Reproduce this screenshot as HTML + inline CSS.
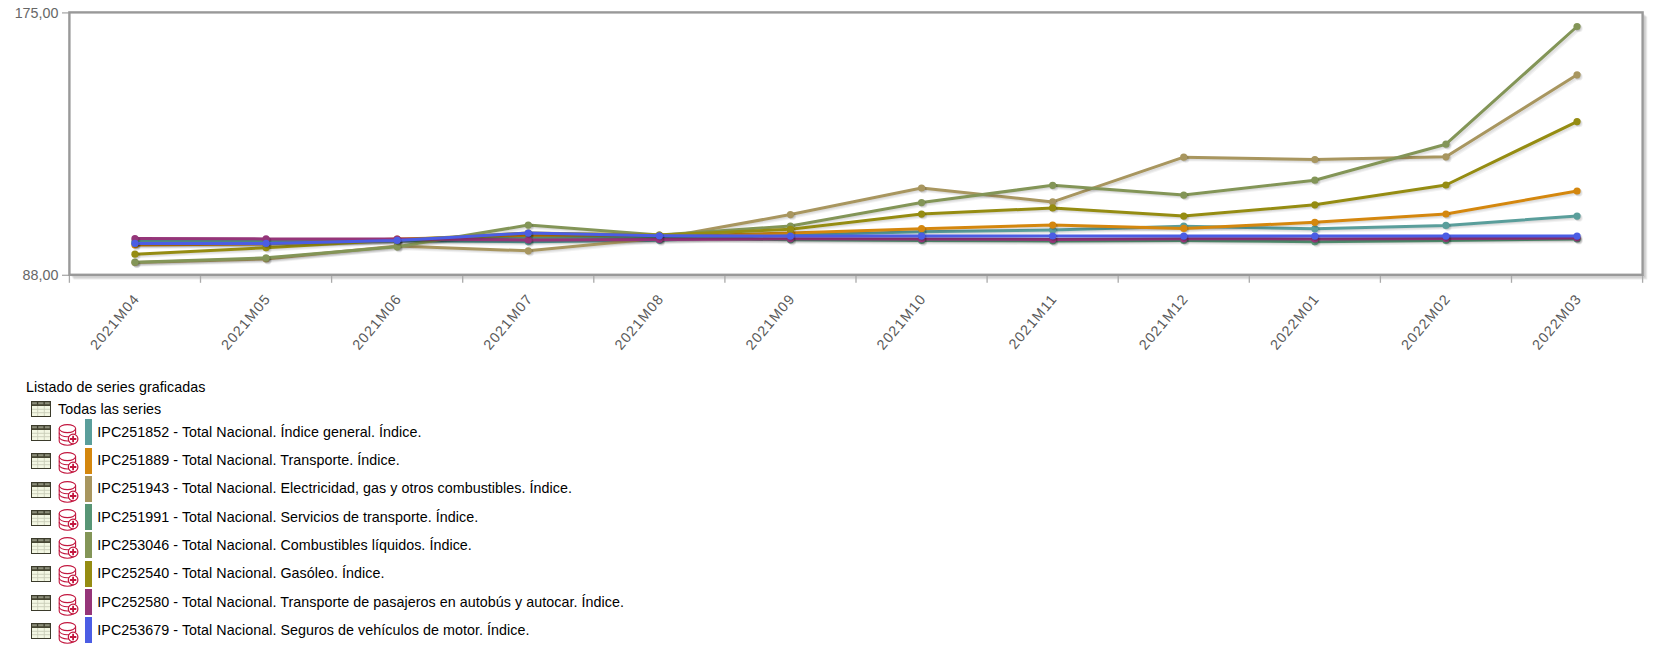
<!DOCTYPE html>
<html><head><meta charset="utf-8"><style>
html,body{margin:0;padding:0;background:#fff;width:1657px;height:650px;overflow:hidden}
body{position:relative;font-family:"Liberation Sans",sans-serif}
.t{position:absolute;font-size:14.3px;line-height:17px;color:#000;white-space:nowrap;letter-spacing:0.05px}
.ti{position:absolute}
.sw{position:absolute;width:7px;height:26px}
</style></head><body>
<svg width="1657" height="370" viewBox="0 0 1657 370" style="position:absolute;left:0;top:0"><path d="M1643.66,14.46 L1643.66,275.86 L71.46,275.86" fill="none" stroke="rgba(0,0,0,0.08)" stroke-width="3"/><path d="M1644.72,15.52 L1644.72,276.92 L72.52,276.92" fill="none" stroke="rgba(0,0,0,0.08)" stroke-width="3"/><path d="M1645.78,16.58 L1645.78,277.98 L73.58,277.98" fill="none" stroke="rgba(0,0,0,0.08)" stroke-width="3"/><g stroke="#aaa" stroke-width="1.3"><line x1="62" y1="12.90" x2="69.40" y2="12.90"/><line x1="62" y1="275.30" x2="69.40" y2="275.30"/><line x1="69.40" y1="274.80" x2="69.40" y2="282.80"/><line x1="200.50" y1="274.80" x2="200.50" y2="282.80"/><line x1="331.60" y1="274.80" x2="331.60" y2="282.80"/><line x1="462.70" y1="274.80" x2="462.70" y2="282.80"/><line x1="593.80" y1="274.80" x2="593.80" y2="282.80"/><line x1="724.90" y1="274.80" x2="724.90" y2="282.80"/><line x1="856.00" y1="274.80" x2="856.00" y2="282.80"/><line x1="987.10" y1="274.80" x2="987.10" y2="282.80"/><line x1="1118.20" y1="274.80" x2="1118.20" y2="282.80"/><line x1="1249.30" y1="274.80" x2="1249.30" y2="282.80"/><line x1="1380.40" y1="274.80" x2="1380.40" y2="282.80"/><line x1="1511.50" y1="274.80" x2="1511.50" y2="282.80"/><line x1="1642.60" y1="274.80" x2="1642.60" y2="282.80"/></g><rect x="69.40" y="12.40" width="1573.20" height="262.40" fill="none" stroke="#999" stroke-width="2.4"/><polyline points="135.83,242.08 266.93,241.88 398.03,241.68 529.13,242.58 660.23,241.18 791.33,235.88 922.43,232.68 1053.53,230.88 1184.63,227.08 1315.73,229.68 1446.83,226.28 1577.93,216.98" fill="none" stroke="rgba(0,0,0,0.05)" stroke-width="3.0" stroke-linejoin="round"/><polyline points="136.72,242.97 267.82,242.77 398.92,242.57 530.02,243.47 661.12,242.07 792.22,236.77 923.32,233.57 1054.42,231.77 1185.52,227.97 1316.62,230.57 1447.72,227.17 1578.82,217.87" fill="none" stroke="rgba(0,0,0,0.05)" stroke-width="3.0" stroke-linejoin="round"/><polyline points="137.60,243.85 268.70,243.65 399.80,243.45 530.90,244.35 662.00,242.95 793.10,237.65 924.20,234.45 1055.30,232.65 1186.40,228.85 1317.50,231.45 1448.60,228.05 1579.70,218.75" fill="none" stroke="rgba(0,0,0,0.05)" stroke-width="3.0" stroke-linejoin="round"/><polyline points="134.95,241.20 266.05,241.00 397.15,240.80 528.25,241.70 659.35,240.30 790.45,235.00 921.55,231.80 1052.65,230.00 1183.75,226.20 1314.85,228.80 1445.95,225.40 1577.05,216.10" fill="none" stroke="#5a9e9b" stroke-width="3.0" stroke-linejoin="round" stroke-linecap="round"/><circle cx="135.66" cy="241.91" r="3.6" fill="rgba(0,0,0,0.06)"/><circle cx="136.36" cy="242.61" r="3.6" fill="rgba(0,0,0,0.06)"/><circle cx="137.07" cy="243.32" r="3.6" fill="rgba(0,0,0,0.06)"/><circle cx="134.95" cy="241.20" r="3.6" fill="#5a9e9b"/><circle cx="266.76" cy="241.71" r="3.6" fill="rgba(0,0,0,0.06)"/><circle cx="267.46" cy="242.41" r="3.6" fill="rgba(0,0,0,0.06)"/><circle cx="268.17" cy="243.12" r="3.6" fill="rgba(0,0,0,0.06)"/><circle cx="266.05" cy="241.00" r="3.6" fill="#5a9e9b"/><circle cx="397.86" cy="241.51" r="3.6" fill="rgba(0,0,0,0.06)"/><circle cx="398.56" cy="242.21" r="3.6" fill="rgba(0,0,0,0.06)"/><circle cx="399.27" cy="242.92" r="3.6" fill="rgba(0,0,0,0.06)"/><circle cx="397.15" cy="240.80" r="3.6" fill="#5a9e9b"/><circle cx="528.96" cy="242.41" r="3.6" fill="rgba(0,0,0,0.06)"/><circle cx="529.66" cy="243.11" r="3.6" fill="rgba(0,0,0,0.06)"/><circle cx="530.37" cy="243.82" r="3.6" fill="rgba(0,0,0,0.06)"/><circle cx="528.25" cy="241.70" r="3.6" fill="#5a9e9b"/><circle cx="660.06" cy="241.01" r="3.6" fill="rgba(0,0,0,0.06)"/><circle cx="660.76" cy="241.71" r="3.6" fill="rgba(0,0,0,0.06)"/><circle cx="661.47" cy="242.42" r="3.6" fill="rgba(0,0,0,0.06)"/><circle cx="659.35" cy="240.30" r="3.6" fill="#5a9e9b"/><circle cx="791.16" cy="235.71" r="3.6" fill="rgba(0,0,0,0.06)"/><circle cx="791.86" cy="236.41" r="3.6" fill="rgba(0,0,0,0.06)"/><circle cx="792.57" cy="237.12" r="3.6" fill="rgba(0,0,0,0.06)"/><circle cx="790.45" cy="235.00" r="3.6" fill="#5a9e9b"/><circle cx="922.26" cy="232.51" r="3.6" fill="rgba(0,0,0,0.06)"/><circle cx="922.96" cy="233.21" r="3.6" fill="rgba(0,0,0,0.06)"/><circle cx="923.67" cy="233.92" r="3.6" fill="rgba(0,0,0,0.06)"/><circle cx="921.55" cy="231.80" r="3.6" fill="#5a9e9b"/><circle cx="1053.36" cy="230.71" r="3.6" fill="rgba(0,0,0,0.06)"/><circle cx="1054.06" cy="231.41" r="3.6" fill="rgba(0,0,0,0.06)"/><circle cx="1054.77" cy="232.12" r="3.6" fill="rgba(0,0,0,0.06)"/><circle cx="1052.65" cy="230.00" r="3.6" fill="#5a9e9b"/><circle cx="1184.46" cy="226.91" r="3.6" fill="rgba(0,0,0,0.06)"/><circle cx="1185.16" cy="227.61" r="3.6" fill="rgba(0,0,0,0.06)"/><circle cx="1185.87" cy="228.32" r="3.6" fill="rgba(0,0,0,0.06)"/><circle cx="1183.75" cy="226.20" r="3.6" fill="#5a9e9b"/><circle cx="1315.56" cy="229.51" r="3.6" fill="rgba(0,0,0,0.06)"/><circle cx="1316.26" cy="230.21" r="3.6" fill="rgba(0,0,0,0.06)"/><circle cx="1316.97" cy="230.92" r="3.6" fill="rgba(0,0,0,0.06)"/><circle cx="1314.85" cy="228.80" r="3.6" fill="#5a9e9b"/><circle cx="1446.66" cy="226.11" r="3.6" fill="rgba(0,0,0,0.06)"/><circle cx="1447.36" cy="226.81" r="3.6" fill="rgba(0,0,0,0.06)"/><circle cx="1448.07" cy="227.52" r="3.6" fill="rgba(0,0,0,0.06)"/><circle cx="1445.95" cy="225.40" r="3.6" fill="#5a9e9b"/><circle cx="1577.76" cy="216.81" r="3.6" fill="rgba(0,0,0,0.06)"/><circle cx="1578.46" cy="217.51" r="3.6" fill="rgba(0,0,0,0.06)"/><circle cx="1579.17" cy="218.22" r="3.6" fill="rgba(0,0,0,0.06)"/><circle cx="1577.05" cy="216.10" r="3.6" fill="#5a9e9b"/><polyline points="135.83,245.88 266.93,244.88 398.03,239.88 529.13,236.78 660.23,237.28 791.33,233.88 922.43,229.58 1053.53,225.98 1184.63,229.28 1315.73,223.18 1446.83,214.88 1577.93,191.88" fill="none" stroke="rgba(0,0,0,0.05)" stroke-width="3.0" stroke-linejoin="round"/><polyline points="136.72,246.77 267.82,245.77 398.92,240.77 530.02,237.67 661.12,238.17 792.22,234.77 923.32,230.47 1054.42,226.87 1185.52,230.17 1316.62,224.07 1447.72,215.77 1578.82,192.77" fill="none" stroke="rgba(0,0,0,0.05)" stroke-width="3.0" stroke-linejoin="round"/><polyline points="137.60,247.65 268.70,246.65 399.80,241.65 530.90,238.55 662.00,239.05 793.10,235.65 924.20,231.35 1055.30,227.75 1186.40,231.05 1317.50,224.95 1448.60,216.65 1579.70,193.65" fill="none" stroke="rgba(0,0,0,0.05)" stroke-width="3.0" stroke-linejoin="round"/><polyline points="134.95,245.00 266.05,244.00 397.15,239.00 528.25,235.90 659.35,236.40 790.45,233.00 921.55,228.70 1052.65,225.10 1183.75,228.40 1314.85,222.30 1445.95,214.00 1577.05,191.00" fill="none" stroke="#d4870e" stroke-width="3.0" stroke-linejoin="round" stroke-linecap="round"/><circle cx="135.66" cy="245.71" r="3.6" fill="rgba(0,0,0,0.06)"/><circle cx="136.36" cy="246.41" r="3.6" fill="rgba(0,0,0,0.06)"/><circle cx="137.07" cy="247.12" r="3.6" fill="rgba(0,0,0,0.06)"/><circle cx="134.95" cy="245.00" r="3.6" fill="#d4870e"/><circle cx="266.76" cy="244.71" r="3.6" fill="rgba(0,0,0,0.06)"/><circle cx="267.46" cy="245.41" r="3.6" fill="rgba(0,0,0,0.06)"/><circle cx="268.17" cy="246.12" r="3.6" fill="rgba(0,0,0,0.06)"/><circle cx="266.05" cy="244.00" r="3.6" fill="#d4870e"/><circle cx="397.86" cy="239.71" r="3.6" fill="rgba(0,0,0,0.06)"/><circle cx="398.56" cy="240.41" r="3.6" fill="rgba(0,0,0,0.06)"/><circle cx="399.27" cy="241.12" r="3.6" fill="rgba(0,0,0,0.06)"/><circle cx="397.15" cy="239.00" r="3.6" fill="#d4870e"/><circle cx="528.96" cy="236.61" r="3.6" fill="rgba(0,0,0,0.06)"/><circle cx="529.66" cy="237.31" r="3.6" fill="rgba(0,0,0,0.06)"/><circle cx="530.37" cy="238.02" r="3.6" fill="rgba(0,0,0,0.06)"/><circle cx="528.25" cy="235.90" r="3.6" fill="#d4870e"/><circle cx="660.06" cy="237.11" r="3.6" fill="rgba(0,0,0,0.06)"/><circle cx="660.76" cy="237.81" r="3.6" fill="rgba(0,0,0,0.06)"/><circle cx="661.47" cy="238.52" r="3.6" fill="rgba(0,0,0,0.06)"/><circle cx="659.35" cy="236.40" r="3.6" fill="#d4870e"/><circle cx="791.16" cy="233.71" r="3.6" fill="rgba(0,0,0,0.06)"/><circle cx="791.86" cy="234.41" r="3.6" fill="rgba(0,0,0,0.06)"/><circle cx="792.57" cy="235.12" r="3.6" fill="rgba(0,0,0,0.06)"/><circle cx="790.45" cy="233.00" r="3.6" fill="#d4870e"/><circle cx="922.26" cy="229.41" r="3.6" fill="rgba(0,0,0,0.06)"/><circle cx="922.96" cy="230.11" r="3.6" fill="rgba(0,0,0,0.06)"/><circle cx="923.67" cy="230.82" r="3.6" fill="rgba(0,0,0,0.06)"/><circle cx="921.55" cy="228.70" r="3.6" fill="#d4870e"/><circle cx="1053.36" cy="225.81" r="3.6" fill="rgba(0,0,0,0.06)"/><circle cx="1054.06" cy="226.51" r="3.6" fill="rgba(0,0,0,0.06)"/><circle cx="1054.77" cy="227.22" r="3.6" fill="rgba(0,0,0,0.06)"/><circle cx="1052.65" cy="225.10" r="3.6" fill="#d4870e"/><circle cx="1184.46" cy="229.11" r="3.6" fill="rgba(0,0,0,0.06)"/><circle cx="1185.16" cy="229.81" r="3.6" fill="rgba(0,0,0,0.06)"/><circle cx="1185.87" cy="230.52" r="3.6" fill="rgba(0,0,0,0.06)"/><circle cx="1183.75" cy="228.40" r="3.6" fill="#d4870e"/><circle cx="1315.56" cy="223.01" r="3.6" fill="rgba(0,0,0,0.06)"/><circle cx="1316.26" cy="223.71" r="3.6" fill="rgba(0,0,0,0.06)"/><circle cx="1316.97" cy="224.42" r="3.6" fill="rgba(0,0,0,0.06)"/><circle cx="1314.85" cy="222.30" r="3.6" fill="#d4870e"/><circle cx="1446.66" cy="214.71" r="3.6" fill="rgba(0,0,0,0.06)"/><circle cx="1447.36" cy="215.41" r="3.6" fill="rgba(0,0,0,0.06)"/><circle cx="1448.07" cy="216.12" r="3.6" fill="rgba(0,0,0,0.06)"/><circle cx="1445.95" cy="214.00" r="3.6" fill="#d4870e"/><circle cx="1577.76" cy="191.71" r="3.6" fill="rgba(0,0,0,0.06)"/><circle cx="1578.46" cy="192.41" r="3.6" fill="rgba(0,0,0,0.06)"/><circle cx="1579.17" cy="193.12" r="3.6" fill="rgba(0,0,0,0.06)"/><circle cx="1577.05" cy="191.00" r="3.6" fill="#d4870e"/><polyline points="135.83,263.38 266.93,259.88 398.03,246.88 529.13,251.68 660.23,239.18 791.33,215.48 922.43,188.88 1053.53,202.78 1184.63,158.08 1315.73,160.38 1446.83,157.68 1577.93,75.68" fill="none" stroke="rgba(0,0,0,0.05)" stroke-width="3.0" stroke-linejoin="round"/><polyline points="136.72,264.27 267.82,260.77 398.92,247.77 530.02,252.57 661.12,240.07 792.22,216.37 923.32,189.77 1054.42,203.67 1185.52,158.97 1316.62,161.27 1447.72,158.57 1578.82,76.57" fill="none" stroke="rgba(0,0,0,0.05)" stroke-width="3.0" stroke-linejoin="round"/><polyline points="137.60,265.15 268.70,261.65 399.80,248.65 530.90,253.45 662.00,240.95 793.10,217.25 924.20,190.65 1055.30,204.55 1186.40,159.85 1317.50,162.15 1448.60,159.45 1579.70,77.45" fill="none" stroke="rgba(0,0,0,0.05)" stroke-width="3.0" stroke-linejoin="round"/><polyline points="134.95,262.50 266.05,259.00 397.15,246.00 528.25,250.80 659.35,238.30 790.45,214.60 921.55,188.00 1052.65,201.90 1183.75,157.20 1314.85,159.50 1445.95,156.80 1577.05,74.80" fill="none" stroke="#a8965f" stroke-width="3.0" stroke-linejoin="round" stroke-linecap="round"/><circle cx="135.66" cy="263.21" r="3.6" fill="rgba(0,0,0,0.06)"/><circle cx="136.36" cy="263.91" r="3.6" fill="rgba(0,0,0,0.06)"/><circle cx="137.07" cy="264.62" r="3.6" fill="rgba(0,0,0,0.06)"/><circle cx="134.95" cy="262.50" r="3.6" fill="#a8965f"/><circle cx="266.76" cy="259.71" r="3.6" fill="rgba(0,0,0,0.06)"/><circle cx="267.46" cy="260.41" r="3.6" fill="rgba(0,0,0,0.06)"/><circle cx="268.17" cy="261.12" r="3.6" fill="rgba(0,0,0,0.06)"/><circle cx="266.05" cy="259.00" r="3.6" fill="#a8965f"/><circle cx="397.86" cy="246.71" r="3.6" fill="rgba(0,0,0,0.06)"/><circle cx="398.56" cy="247.41" r="3.6" fill="rgba(0,0,0,0.06)"/><circle cx="399.27" cy="248.12" r="3.6" fill="rgba(0,0,0,0.06)"/><circle cx="397.15" cy="246.00" r="3.6" fill="#a8965f"/><circle cx="528.96" cy="251.51" r="3.6" fill="rgba(0,0,0,0.06)"/><circle cx="529.66" cy="252.21" r="3.6" fill="rgba(0,0,0,0.06)"/><circle cx="530.37" cy="252.92" r="3.6" fill="rgba(0,0,0,0.06)"/><circle cx="528.25" cy="250.80" r="3.6" fill="#a8965f"/><circle cx="660.06" cy="239.01" r="3.6" fill="rgba(0,0,0,0.06)"/><circle cx="660.76" cy="239.71" r="3.6" fill="rgba(0,0,0,0.06)"/><circle cx="661.47" cy="240.42" r="3.6" fill="rgba(0,0,0,0.06)"/><circle cx="659.35" cy="238.30" r="3.6" fill="#a8965f"/><circle cx="791.16" cy="215.31" r="3.6" fill="rgba(0,0,0,0.06)"/><circle cx="791.86" cy="216.01" r="3.6" fill="rgba(0,0,0,0.06)"/><circle cx="792.57" cy="216.72" r="3.6" fill="rgba(0,0,0,0.06)"/><circle cx="790.45" cy="214.60" r="3.6" fill="#a8965f"/><circle cx="922.26" cy="188.71" r="3.6" fill="rgba(0,0,0,0.06)"/><circle cx="922.96" cy="189.41" r="3.6" fill="rgba(0,0,0,0.06)"/><circle cx="923.67" cy="190.12" r="3.6" fill="rgba(0,0,0,0.06)"/><circle cx="921.55" cy="188.00" r="3.6" fill="#a8965f"/><circle cx="1053.36" cy="202.61" r="3.6" fill="rgba(0,0,0,0.06)"/><circle cx="1054.06" cy="203.31" r="3.6" fill="rgba(0,0,0,0.06)"/><circle cx="1054.77" cy="204.02" r="3.6" fill="rgba(0,0,0,0.06)"/><circle cx="1052.65" cy="201.90" r="3.6" fill="#a8965f"/><circle cx="1184.46" cy="157.91" r="3.6" fill="rgba(0,0,0,0.06)"/><circle cx="1185.16" cy="158.61" r="3.6" fill="rgba(0,0,0,0.06)"/><circle cx="1185.87" cy="159.32" r="3.6" fill="rgba(0,0,0,0.06)"/><circle cx="1183.75" cy="157.20" r="3.6" fill="#a8965f"/><circle cx="1315.56" cy="160.21" r="3.6" fill="rgba(0,0,0,0.06)"/><circle cx="1316.26" cy="160.91" r="3.6" fill="rgba(0,0,0,0.06)"/><circle cx="1316.97" cy="161.62" r="3.6" fill="rgba(0,0,0,0.06)"/><circle cx="1314.85" cy="159.50" r="3.6" fill="#a8965f"/><circle cx="1446.66" cy="157.51" r="3.6" fill="rgba(0,0,0,0.06)"/><circle cx="1447.36" cy="158.21" r="3.6" fill="rgba(0,0,0,0.06)"/><circle cx="1448.07" cy="158.92" r="3.6" fill="rgba(0,0,0,0.06)"/><circle cx="1445.95" cy="156.80" r="3.6" fill="#a8965f"/><circle cx="1577.76" cy="75.51" r="3.6" fill="rgba(0,0,0,0.06)"/><circle cx="1578.46" cy="76.21" r="3.6" fill="rgba(0,0,0,0.06)"/><circle cx="1579.17" cy="76.92" r="3.6" fill="rgba(0,0,0,0.06)"/><circle cx="1577.05" cy="74.80" r="3.6" fill="#a8965f"/><polyline points="135.83,244.18 266.93,244.08 398.03,241.38 529.13,239.18 660.23,238.68 791.33,240.68 922.43,241.38 1053.53,241.88 1184.63,241.28 1315.73,242.58 1446.83,241.28 1577.93,239.88" fill="none" stroke="rgba(0,0,0,0.05)" stroke-width="3.0" stroke-linejoin="round"/><polyline points="136.72,245.07 267.82,244.97 398.92,242.27 530.02,240.07 661.12,239.57 792.22,241.57 923.32,242.27 1054.42,242.77 1185.52,242.17 1316.62,243.47 1447.72,242.17 1578.82,240.77" fill="none" stroke="rgba(0,0,0,0.05)" stroke-width="3.0" stroke-linejoin="round"/><polyline points="137.60,245.95 268.70,245.85 399.80,243.15 530.90,240.95 662.00,240.45 793.10,242.45 924.20,243.15 1055.30,243.65 1186.40,243.05 1317.50,244.35 1448.60,243.05 1579.70,241.65" fill="none" stroke="rgba(0,0,0,0.05)" stroke-width="3.0" stroke-linejoin="round"/><polyline points="134.95,243.30 266.05,243.20 397.15,240.50 528.25,238.30 659.35,237.80 790.45,239.80 921.55,240.50 1052.65,241.00 1183.75,240.40 1314.85,241.70 1445.95,240.40 1577.05,239.00" fill="none" stroke="#579575" stroke-width="3.0" stroke-linejoin="round" stroke-linecap="round"/><circle cx="135.66" cy="244.01" r="3.6" fill="rgba(0,0,0,0.06)"/><circle cx="136.36" cy="244.71" r="3.6" fill="rgba(0,0,0,0.06)"/><circle cx="137.07" cy="245.42" r="3.6" fill="rgba(0,0,0,0.06)"/><circle cx="134.95" cy="243.30" r="3.6" fill="#579575"/><circle cx="266.76" cy="243.91" r="3.6" fill="rgba(0,0,0,0.06)"/><circle cx="267.46" cy="244.61" r="3.6" fill="rgba(0,0,0,0.06)"/><circle cx="268.17" cy="245.32" r="3.6" fill="rgba(0,0,0,0.06)"/><circle cx="266.05" cy="243.20" r="3.6" fill="#579575"/><circle cx="397.86" cy="241.21" r="3.6" fill="rgba(0,0,0,0.06)"/><circle cx="398.56" cy="241.91" r="3.6" fill="rgba(0,0,0,0.06)"/><circle cx="399.27" cy="242.62" r="3.6" fill="rgba(0,0,0,0.06)"/><circle cx="397.15" cy="240.50" r="3.6" fill="#579575"/><circle cx="528.96" cy="239.01" r="3.6" fill="rgba(0,0,0,0.06)"/><circle cx="529.66" cy="239.71" r="3.6" fill="rgba(0,0,0,0.06)"/><circle cx="530.37" cy="240.42" r="3.6" fill="rgba(0,0,0,0.06)"/><circle cx="528.25" cy="238.30" r="3.6" fill="#579575"/><circle cx="660.06" cy="238.51" r="3.6" fill="rgba(0,0,0,0.06)"/><circle cx="660.76" cy="239.21" r="3.6" fill="rgba(0,0,0,0.06)"/><circle cx="661.47" cy="239.92" r="3.6" fill="rgba(0,0,0,0.06)"/><circle cx="659.35" cy="237.80" r="3.6" fill="#579575"/><circle cx="791.16" cy="240.51" r="3.6" fill="rgba(0,0,0,0.06)"/><circle cx="791.86" cy="241.21" r="3.6" fill="rgba(0,0,0,0.06)"/><circle cx="792.57" cy="241.92" r="3.6" fill="rgba(0,0,0,0.06)"/><circle cx="790.45" cy="239.80" r="3.6" fill="#579575"/><circle cx="922.26" cy="241.21" r="3.6" fill="rgba(0,0,0,0.06)"/><circle cx="922.96" cy="241.91" r="3.6" fill="rgba(0,0,0,0.06)"/><circle cx="923.67" cy="242.62" r="3.6" fill="rgba(0,0,0,0.06)"/><circle cx="921.55" cy="240.50" r="3.6" fill="#579575"/><circle cx="1053.36" cy="241.71" r="3.6" fill="rgba(0,0,0,0.06)"/><circle cx="1054.06" cy="242.41" r="3.6" fill="rgba(0,0,0,0.06)"/><circle cx="1054.77" cy="243.12" r="3.6" fill="rgba(0,0,0,0.06)"/><circle cx="1052.65" cy="241.00" r="3.6" fill="#579575"/><circle cx="1184.46" cy="241.11" r="3.6" fill="rgba(0,0,0,0.06)"/><circle cx="1185.16" cy="241.81" r="3.6" fill="rgba(0,0,0,0.06)"/><circle cx="1185.87" cy="242.52" r="3.6" fill="rgba(0,0,0,0.06)"/><circle cx="1183.75" cy="240.40" r="3.6" fill="#579575"/><circle cx="1315.56" cy="242.41" r="3.6" fill="rgba(0,0,0,0.06)"/><circle cx="1316.26" cy="243.11" r="3.6" fill="rgba(0,0,0,0.06)"/><circle cx="1316.97" cy="243.82" r="3.6" fill="rgba(0,0,0,0.06)"/><circle cx="1314.85" cy="241.70" r="3.6" fill="#579575"/><circle cx="1446.66" cy="241.11" r="3.6" fill="rgba(0,0,0,0.06)"/><circle cx="1447.36" cy="241.81" r="3.6" fill="rgba(0,0,0,0.06)"/><circle cx="1448.07" cy="242.52" r="3.6" fill="rgba(0,0,0,0.06)"/><circle cx="1445.95" cy="240.40" r="3.6" fill="#579575"/><circle cx="1577.76" cy="239.71" r="3.6" fill="rgba(0,0,0,0.06)"/><circle cx="1578.46" cy="240.41" r="3.6" fill="rgba(0,0,0,0.06)"/><circle cx="1579.17" cy="241.12" r="3.6" fill="rgba(0,0,0,0.06)"/><circle cx="1577.05" cy="239.00" r="3.6" fill="#579575"/><polyline points="135.83,263.08 266.93,258.68 398.03,247.68 529.13,225.98 660.23,235.88 791.33,226.88 922.43,203.48 1053.53,186.18 1184.63,195.98 1315.73,181.08 1446.83,145.08 1577.93,27.38" fill="none" stroke="rgba(0,0,0,0.05)" stroke-width="3.0" stroke-linejoin="round"/><polyline points="136.72,263.97 267.82,259.57 398.92,248.57 530.02,226.87 661.12,236.77 792.22,227.77 923.32,204.37 1054.42,187.07 1185.52,196.87 1316.62,181.97 1447.72,145.97 1578.82,28.27" fill="none" stroke="rgba(0,0,0,0.05)" stroke-width="3.0" stroke-linejoin="round"/><polyline points="137.60,264.85 268.70,260.45 399.80,249.45 530.90,227.75 662.00,237.65 793.10,228.65 924.20,205.25 1055.30,187.95 1186.40,197.75 1317.50,182.85 1448.60,146.85 1579.70,29.15" fill="none" stroke="rgba(0,0,0,0.05)" stroke-width="3.0" stroke-linejoin="round"/><polyline points="134.95,262.20 266.05,257.80 397.15,246.80 528.25,225.10 659.35,235.00 790.45,226.00 921.55,202.60 1052.65,185.30 1183.75,195.10 1314.85,180.20 1445.95,144.20 1577.05,26.50" fill="none" stroke="#839557" stroke-width="3.0" stroke-linejoin="round" stroke-linecap="round"/><circle cx="135.66" cy="262.91" r="3.6" fill="rgba(0,0,0,0.06)"/><circle cx="136.36" cy="263.61" r="3.6" fill="rgba(0,0,0,0.06)"/><circle cx="137.07" cy="264.32" r="3.6" fill="rgba(0,0,0,0.06)"/><circle cx="134.95" cy="262.20" r="3.6" fill="#839557"/><circle cx="266.76" cy="258.51" r="3.6" fill="rgba(0,0,0,0.06)"/><circle cx="267.46" cy="259.21" r="3.6" fill="rgba(0,0,0,0.06)"/><circle cx="268.17" cy="259.92" r="3.6" fill="rgba(0,0,0,0.06)"/><circle cx="266.05" cy="257.80" r="3.6" fill="#839557"/><circle cx="397.86" cy="247.51" r="3.6" fill="rgba(0,0,0,0.06)"/><circle cx="398.56" cy="248.21" r="3.6" fill="rgba(0,0,0,0.06)"/><circle cx="399.27" cy="248.92" r="3.6" fill="rgba(0,0,0,0.06)"/><circle cx="397.15" cy="246.80" r="3.6" fill="#839557"/><circle cx="528.96" cy="225.81" r="3.6" fill="rgba(0,0,0,0.06)"/><circle cx="529.66" cy="226.51" r="3.6" fill="rgba(0,0,0,0.06)"/><circle cx="530.37" cy="227.22" r="3.6" fill="rgba(0,0,0,0.06)"/><circle cx="528.25" cy="225.10" r="3.6" fill="#839557"/><circle cx="660.06" cy="235.71" r="3.6" fill="rgba(0,0,0,0.06)"/><circle cx="660.76" cy="236.41" r="3.6" fill="rgba(0,0,0,0.06)"/><circle cx="661.47" cy="237.12" r="3.6" fill="rgba(0,0,0,0.06)"/><circle cx="659.35" cy="235.00" r="3.6" fill="#839557"/><circle cx="791.16" cy="226.71" r="3.6" fill="rgba(0,0,0,0.06)"/><circle cx="791.86" cy="227.41" r="3.6" fill="rgba(0,0,0,0.06)"/><circle cx="792.57" cy="228.12" r="3.6" fill="rgba(0,0,0,0.06)"/><circle cx="790.45" cy="226.00" r="3.6" fill="#839557"/><circle cx="922.26" cy="203.31" r="3.6" fill="rgba(0,0,0,0.06)"/><circle cx="922.96" cy="204.01" r="3.6" fill="rgba(0,0,0,0.06)"/><circle cx="923.67" cy="204.72" r="3.6" fill="rgba(0,0,0,0.06)"/><circle cx="921.55" cy="202.60" r="3.6" fill="#839557"/><circle cx="1053.36" cy="186.01" r="3.6" fill="rgba(0,0,0,0.06)"/><circle cx="1054.06" cy="186.71" r="3.6" fill="rgba(0,0,0,0.06)"/><circle cx="1054.77" cy="187.42" r="3.6" fill="rgba(0,0,0,0.06)"/><circle cx="1052.65" cy="185.30" r="3.6" fill="#839557"/><circle cx="1184.46" cy="195.81" r="3.6" fill="rgba(0,0,0,0.06)"/><circle cx="1185.16" cy="196.51" r="3.6" fill="rgba(0,0,0,0.06)"/><circle cx="1185.87" cy="197.22" r="3.6" fill="rgba(0,0,0,0.06)"/><circle cx="1183.75" cy="195.10" r="3.6" fill="#839557"/><circle cx="1315.56" cy="180.91" r="3.6" fill="rgba(0,0,0,0.06)"/><circle cx="1316.26" cy="181.61" r="3.6" fill="rgba(0,0,0,0.06)"/><circle cx="1316.97" cy="182.32" r="3.6" fill="rgba(0,0,0,0.06)"/><circle cx="1314.85" cy="180.20" r="3.6" fill="#839557"/><circle cx="1446.66" cy="144.91" r="3.6" fill="rgba(0,0,0,0.06)"/><circle cx="1447.36" cy="145.61" r="3.6" fill="rgba(0,0,0,0.06)"/><circle cx="1448.07" cy="146.32" r="3.6" fill="rgba(0,0,0,0.06)"/><circle cx="1445.95" cy="144.20" r="3.6" fill="#839557"/><circle cx="1577.76" cy="27.21" r="3.6" fill="rgba(0,0,0,0.06)"/><circle cx="1578.46" cy="27.91" r="3.6" fill="rgba(0,0,0,0.06)"/><circle cx="1579.17" cy="28.62" r="3.6" fill="rgba(0,0,0,0.06)"/><circle cx="1577.05" cy="26.50" r="3.6" fill="#839557"/><polyline points="135.83,255.08 266.93,248.58 398.03,240.88 529.13,233.88 660.23,235.88 791.33,230.18 922.43,214.98 1053.53,208.78 1184.63,216.98 1315.73,205.68 1446.83,185.88 1577.93,122.48" fill="none" stroke="rgba(0,0,0,0.05)" stroke-width="3.0" stroke-linejoin="round"/><polyline points="136.72,255.97 267.82,249.47 398.92,241.77 530.02,234.77 661.12,236.77 792.22,231.07 923.32,215.87 1054.42,209.67 1185.52,217.87 1316.62,206.57 1447.72,186.77 1578.82,123.37" fill="none" stroke="rgba(0,0,0,0.05)" stroke-width="3.0" stroke-linejoin="round"/><polyline points="137.60,256.85 268.70,250.35 399.80,242.65 530.90,235.65 662.00,237.65 793.10,231.95 924.20,216.75 1055.30,210.55 1186.40,218.75 1317.50,207.45 1448.60,187.65 1579.70,124.25" fill="none" stroke="rgba(0,0,0,0.05)" stroke-width="3.0" stroke-linejoin="round"/><polyline points="134.95,254.20 266.05,247.70 397.15,240.00 528.25,233.00 659.35,235.00 790.45,229.30 921.55,214.10 1052.65,207.90 1183.75,216.10 1314.85,204.80 1445.95,185.00 1577.05,121.60" fill="none" stroke="#958c12" stroke-width="3.0" stroke-linejoin="round" stroke-linecap="round"/><circle cx="135.66" cy="254.91" r="3.6" fill="rgba(0,0,0,0.06)"/><circle cx="136.36" cy="255.61" r="3.6" fill="rgba(0,0,0,0.06)"/><circle cx="137.07" cy="256.32" r="3.6" fill="rgba(0,0,0,0.06)"/><circle cx="134.95" cy="254.20" r="3.6" fill="#958c12"/><circle cx="266.76" cy="248.41" r="3.6" fill="rgba(0,0,0,0.06)"/><circle cx="267.46" cy="249.11" r="3.6" fill="rgba(0,0,0,0.06)"/><circle cx="268.17" cy="249.82" r="3.6" fill="rgba(0,0,0,0.06)"/><circle cx="266.05" cy="247.70" r="3.6" fill="#958c12"/><circle cx="397.86" cy="240.71" r="3.6" fill="rgba(0,0,0,0.06)"/><circle cx="398.56" cy="241.41" r="3.6" fill="rgba(0,0,0,0.06)"/><circle cx="399.27" cy="242.12" r="3.6" fill="rgba(0,0,0,0.06)"/><circle cx="397.15" cy="240.00" r="3.6" fill="#958c12"/><circle cx="528.96" cy="233.71" r="3.6" fill="rgba(0,0,0,0.06)"/><circle cx="529.66" cy="234.41" r="3.6" fill="rgba(0,0,0,0.06)"/><circle cx="530.37" cy="235.12" r="3.6" fill="rgba(0,0,0,0.06)"/><circle cx="528.25" cy="233.00" r="3.6" fill="#958c12"/><circle cx="660.06" cy="235.71" r="3.6" fill="rgba(0,0,0,0.06)"/><circle cx="660.76" cy="236.41" r="3.6" fill="rgba(0,0,0,0.06)"/><circle cx="661.47" cy="237.12" r="3.6" fill="rgba(0,0,0,0.06)"/><circle cx="659.35" cy="235.00" r="3.6" fill="#958c12"/><circle cx="791.16" cy="230.01" r="3.6" fill="rgba(0,0,0,0.06)"/><circle cx="791.86" cy="230.71" r="3.6" fill="rgba(0,0,0,0.06)"/><circle cx="792.57" cy="231.42" r="3.6" fill="rgba(0,0,0,0.06)"/><circle cx="790.45" cy="229.30" r="3.6" fill="#958c12"/><circle cx="922.26" cy="214.81" r="3.6" fill="rgba(0,0,0,0.06)"/><circle cx="922.96" cy="215.51" r="3.6" fill="rgba(0,0,0,0.06)"/><circle cx="923.67" cy="216.22" r="3.6" fill="rgba(0,0,0,0.06)"/><circle cx="921.55" cy="214.10" r="3.6" fill="#958c12"/><circle cx="1053.36" cy="208.61" r="3.6" fill="rgba(0,0,0,0.06)"/><circle cx="1054.06" cy="209.31" r="3.6" fill="rgba(0,0,0,0.06)"/><circle cx="1054.77" cy="210.02" r="3.6" fill="rgba(0,0,0,0.06)"/><circle cx="1052.65" cy="207.90" r="3.6" fill="#958c12"/><circle cx="1184.46" cy="216.81" r="3.6" fill="rgba(0,0,0,0.06)"/><circle cx="1185.16" cy="217.51" r="3.6" fill="rgba(0,0,0,0.06)"/><circle cx="1185.87" cy="218.22" r="3.6" fill="rgba(0,0,0,0.06)"/><circle cx="1183.75" cy="216.10" r="3.6" fill="#958c12"/><circle cx="1315.56" cy="205.51" r="3.6" fill="rgba(0,0,0,0.06)"/><circle cx="1316.26" cy="206.21" r="3.6" fill="rgba(0,0,0,0.06)"/><circle cx="1316.97" cy="206.92" r="3.6" fill="rgba(0,0,0,0.06)"/><circle cx="1314.85" cy="204.80" r="3.6" fill="#958c12"/><circle cx="1446.66" cy="185.71" r="3.6" fill="rgba(0,0,0,0.06)"/><circle cx="1447.36" cy="186.41" r="3.6" fill="rgba(0,0,0,0.06)"/><circle cx="1448.07" cy="187.12" r="3.6" fill="rgba(0,0,0,0.06)"/><circle cx="1445.95" cy="185.00" r="3.6" fill="#958c12"/><circle cx="1577.76" cy="122.31" r="3.6" fill="rgba(0,0,0,0.06)"/><circle cx="1578.46" cy="123.01" r="3.6" fill="rgba(0,0,0,0.06)"/><circle cx="1579.17" cy="123.72" r="3.6" fill="rgba(0,0,0,0.06)"/><circle cx="1577.05" cy="121.60" r="3.6" fill="#958c12"/><polyline points="135.83,239.38 266.93,239.78 398.03,239.88 529.13,240.88 660.23,240.28 791.33,239.68 922.43,239.88 1053.53,240.38 1184.63,239.68 1315.73,239.78 1446.83,239.38 1577.93,238.88" fill="none" stroke="rgba(0,0,0,0.05)" stroke-width="3.0" stroke-linejoin="round"/><polyline points="136.72,240.27 267.82,240.67 398.92,240.77 530.02,241.77 661.12,241.17 792.22,240.57 923.32,240.77 1054.42,241.27 1185.52,240.57 1316.62,240.67 1447.72,240.27 1578.82,239.77" fill="none" stroke="rgba(0,0,0,0.05)" stroke-width="3.0" stroke-linejoin="round"/><polyline points="137.60,241.15 268.70,241.55 399.80,241.65 530.90,242.65 662.00,242.05 793.10,241.45 924.20,241.65 1055.30,242.15 1186.40,241.45 1317.50,241.55 1448.60,241.15 1579.70,240.65" fill="none" stroke="rgba(0,0,0,0.05)" stroke-width="3.0" stroke-linejoin="round"/><polyline points="134.95,238.50 266.05,238.90 397.15,239.00 528.25,240.00 659.35,239.40 790.45,238.80 921.55,239.00 1052.65,239.50 1183.75,238.80 1314.85,238.90 1445.95,238.50 1577.05,238.00" fill="none" stroke="#953579" stroke-width="3.0" stroke-linejoin="round" stroke-linecap="round"/><circle cx="135.66" cy="239.21" r="3.6" fill="rgba(0,0,0,0.06)"/><circle cx="136.36" cy="239.91" r="3.6" fill="rgba(0,0,0,0.06)"/><circle cx="137.07" cy="240.62" r="3.6" fill="rgba(0,0,0,0.06)"/><circle cx="134.95" cy="238.50" r="3.6" fill="#953579"/><circle cx="266.76" cy="239.61" r="3.6" fill="rgba(0,0,0,0.06)"/><circle cx="267.46" cy="240.31" r="3.6" fill="rgba(0,0,0,0.06)"/><circle cx="268.17" cy="241.02" r="3.6" fill="rgba(0,0,0,0.06)"/><circle cx="266.05" cy="238.90" r="3.6" fill="#953579"/><circle cx="397.86" cy="239.71" r="3.6" fill="rgba(0,0,0,0.06)"/><circle cx="398.56" cy="240.41" r="3.6" fill="rgba(0,0,0,0.06)"/><circle cx="399.27" cy="241.12" r="3.6" fill="rgba(0,0,0,0.06)"/><circle cx="397.15" cy="239.00" r="3.6" fill="#953579"/><circle cx="528.96" cy="240.71" r="3.6" fill="rgba(0,0,0,0.06)"/><circle cx="529.66" cy="241.41" r="3.6" fill="rgba(0,0,0,0.06)"/><circle cx="530.37" cy="242.12" r="3.6" fill="rgba(0,0,0,0.06)"/><circle cx="528.25" cy="240.00" r="3.6" fill="#953579"/><circle cx="660.06" cy="240.11" r="3.6" fill="rgba(0,0,0,0.06)"/><circle cx="660.76" cy="240.81" r="3.6" fill="rgba(0,0,0,0.06)"/><circle cx="661.47" cy="241.52" r="3.6" fill="rgba(0,0,0,0.06)"/><circle cx="659.35" cy="239.40" r="3.6" fill="#953579"/><circle cx="791.16" cy="239.51" r="3.6" fill="rgba(0,0,0,0.06)"/><circle cx="791.86" cy="240.21" r="3.6" fill="rgba(0,0,0,0.06)"/><circle cx="792.57" cy="240.92" r="3.6" fill="rgba(0,0,0,0.06)"/><circle cx="790.45" cy="238.80" r="3.6" fill="#953579"/><circle cx="922.26" cy="239.71" r="3.6" fill="rgba(0,0,0,0.06)"/><circle cx="922.96" cy="240.41" r="3.6" fill="rgba(0,0,0,0.06)"/><circle cx="923.67" cy="241.12" r="3.6" fill="rgba(0,0,0,0.06)"/><circle cx="921.55" cy="239.00" r="3.6" fill="#953579"/><circle cx="1053.36" cy="240.21" r="3.6" fill="rgba(0,0,0,0.06)"/><circle cx="1054.06" cy="240.91" r="3.6" fill="rgba(0,0,0,0.06)"/><circle cx="1054.77" cy="241.62" r="3.6" fill="rgba(0,0,0,0.06)"/><circle cx="1052.65" cy="239.50" r="3.6" fill="#953579"/><circle cx="1184.46" cy="239.51" r="3.6" fill="rgba(0,0,0,0.06)"/><circle cx="1185.16" cy="240.21" r="3.6" fill="rgba(0,0,0,0.06)"/><circle cx="1185.87" cy="240.92" r="3.6" fill="rgba(0,0,0,0.06)"/><circle cx="1183.75" cy="238.80" r="3.6" fill="#953579"/><circle cx="1315.56" cy="239.61" r="3.6" fill="rgba(0,0,0,0.06)"/><circle cx="1316.26" cy="240.31" r="3.6" fill="rgba(0,0,0,0.06)"/><circle cx="1316.97" cy="241.02" r="3.6" fill="rgba(0,0,0,0.06)"/><circle cx="1314.85" cy="238.90" r="3.6" fill="#953579"/><circle cx="1446.66" cy="239.21" r="3.6" fill="rgba(0,0,0,0.06)"/><circle cx="1447.36" cy="239.91" r="3.6" fill="rgba(0,0,0,0.06)"/><circle cx="1448.07" cy="240.62" r="3.6" fill="rgba(0,0,0,0.06)"/><circle cx="1445.95" cy="238.50" r="3.6" fill="#953579"/><circle cx="1577.76" cy="238.71" r="3.6" fill="rgba(0,0,0,0.06)"/><circle cx="1578.46" cy="239.41" r="3.6" fill="rgba(0,0,0,0.06)"/><circle cx="1579.17" cy="240.12" r="3.6" fill="rgba(0,0,0,0.06)"/><circle cx="1577.05" cy="238.00" r="3.6" fill="#953579"/><polyline points="135.83,244.28 266.93,244.28 398.03,241.28 529.13,233.98 660.23,236.68 791.33,236.98 922.43,236.98 1053.53,236.88 1184.63,236.98 1315.73,236.98 1446.83,236.98 1577.93,236.98" fill="none" stroke="rgba(0,0,0,0.05)" stroke-width="3.0" stroke-linejoin="round"/><polyline points="136.72,245.17 267.82,245.17 398.92,242.17 530.02,234.87 661.12,237.57 792.22,237.87 923.32,237.87 1054.42,237.77 1185.52,237.87 1316.62,237.87 1447.72,237.87 1578.82,237.87" fill="none" stroke="rgba(0,0,0,0.05)" stroke-width="3.0" stroke-linejoin="round"/><polyline points="137.60,246.05 268.70,246.05 399.80,243.05 530.90,235.75 662.00,238.45 793.10,238.75 924.20,238.75 1055.30,238.65 1186.40,238.75 1317.50,238.75 1448.60,238.75 1579.70,238.75" fill="none" stroke="rgba(0,0,0,0.05)" stroke-width="3.0" stroke-linejoin="round"/><polyline points="134.95,243.40 266.05,243.40 397.15,240.40 528.25,233.10 659.35,235.80 790.45,236.10 921.55,236.10 1052.65,236.00 1183.75,236.10 1314.85,236.10 1445.95,236.10 1577.05,236.10" fill="none" stroke="#4b5de4" stroke-width="3.0" stroke-linejoin="round" stroke-linecap="round"/><circle cx="135.66" cy="244.11" r="3.6" fill="rgba(0,0,0,0.06)"/><circle cx="136.36" cy="244.81" r="3.6" fill="rgba(0,0,0,0.06)"/><circle cx="137.07" cy="245.52" r="3.6" fill="rgba(0,0,0,0.06)"/><circle cx="134.95" cy="243.40" r="3.6" fill="#4b5de4"/><circle cx="266.76" cy="244.11" r="3.6" fill="rgba(0,0,0,0.06)"/><circle cx="267.46" cy="244.81" r="3.6" fill="rgba(0,0,0,0.06)"/><circle cx="268.17" cy="245.52" r="3.6" fill="rgba(0,0,0,0.06)"/><circle cx="266.05" cy="243.40" r="3.6" fill="#4b5de4"/><circle cx="397.86" cy="241.11" r="3.6" fill="rgba(0,0,0,0.06)"/><circle cx="398.56" cy="241.81" r="3.6" fill="rgba(0,0,0,0.06)"/><circle cx="399.27" cy="242.52" r="3.6" fill="rgba(0,0,0,0.06)"/><circle cx="397.15" cy="240.40" r="3.6" fill="#4b5de4"/><circle cx="528.96" cy="233.81" r="3.6" fill="rgba(0,0,0,0.06)"/><circle cx="529.66" cy="234.51" r="3.6" fill="rgba(0,0,0,0.06)"/><circle cx="530.37" cy="235.22" r="3.6" fill="rgba(0,0,0,0.06)"/><circle cx="528.25" cy="233.10" r="3.6" fill="#4b5de4"/><circle cx="660.06" cy="236.51" r="3.6" fill="rgba(0,0,0,0.06)"/><circle cx="660.76" cy="237.21" r="3.6" fill="rgba(0,0,0,0.06)"/><circle cx="661.47" cy="237.92" r="3.6" fill="rgba(0,0,0,0.06)"/><circle cx="659.35" cy="235.80" r="3.6" fill="#4b5de4"/><circle cx="791.16" cy="236.81" r="3.6" fill="rgba(0,0,0,0.06)"/><circle cx="791.86" cy="237.51" r="3.6" fill="rgba(0,0,0,0.06)"/><circle cx="792.57" cy="238.22" r="3.6" fill="rgba(0,0,0,0.06)"/><circle cx="790.45" cy="236.10" r="3.6" fill="#4b5de4"/><circle cx="922.26" cy="236.81" r="3.6" fill="rgba(0,0,0,0.06)"/><circle cx="922.96" cy="237.51" r="3.6" fill="rgba(0,0,0,0.06)"/><circle cx="923.67" cy="238.22" r="3.6" fill="rgba(0,0,0,0.06)"/><circle cx="921.55" cy="236.10" r="3.6" fill="#4b5de4"/><circle cx="1053.36" cy="236.71" r="3.6" fill="rgba(0,0,0,0.06)"/><circle cx="1054.06" cy="237.41" r="3.6" fill="rgba(0,0,0,0.06)"/><circle cx="1054.77" cy="238.12" r="3.6" fill="rgba(0,0,0,0.06)"/><circle cx="1052.65" cy="236.00" r="3.6" fill="#4b5de4"/><circle cx="1184.46" cy="236.81" r="3.6" fill="rgba(0,0,0,0.06)"/><circle cx="1185.16" cy="237.51" r="3.6" fill="rgba(0,0,0,0.06)"/><circle cx="1185.87" cy="238.22" r="3.6" fill="rgba(0,0,0,0.06)"/><circle cx="1183.75" cy="236.10" r="3.6" fill="#4b5de4"/><circle cx="1315.56" cy="236.81" r="3.6" fill="rgba(0,0,0,0.06)"/><circle cx="1316.26" cy="237.51" r="3.6" fill="rgba(0,0,0,0.06)"/><circle cx="1316.97" cy="238.22" r="3.6" fill="rgba(0,0,0,0.06)"/><circle cx="1314.85" cy="236.10" r="3.6" fill="#4b5de4"/><circle cx="1446.66" cy="236.81" r="3.6" fill="rgba(0,0,0,0.06)"/><circle cx="1447.36" cy="237.51" r="3.6" fill="rgba(0,0,0,0.06)"/><circle cx="1448.07" cy="238.22" r="3.6" fill="rgba(0,0,0,0.06)"/><circle cx="1445.95" cy="236.10" r="3.6" fill="#4b5de4"/><circle cx="1577.76" cy="236.81" r="3.6" fill="rgba(0,0,0,0.06)"/><circle cx="1578.46" cy="237.51" r="3.6" fill="rgba(0,0,0,0.06)"/><circle cx="1579.17" cy="238.22" r="3.6" fill="rgba(0,0,0,0.06)"/><circle cx="1577.05" cy="236.10" r="3.6" fill="#4b5de4"/><text x="58.4" y="17.9" text-anchor="end" font-size="14.3" fill="#666" font-family="Liberation Sans">175,00</text><text x="58.4" y="279.9" text-anchor="end" font-size="14.3" fill="#666" font-family="Liberation Sans">88,00</text><text x="140.25" y="299.00" text-anchor="end" font-size="14.3" letter-spacing="1.15" fill="#5a5a5a" font-family="Liberation Sans" transform="rotate(-50 140.25 299.00)">2021M04</text><text x="271.35" y="299.00" text-anchor="end" font-size="14.3" letter-spacing="1.15" fill="#5a5a5a" font-family="Liberation Sans" transform="rotate(-50 271.35 299.00)">2021M05</text><text x="402.45" y="299.00" text-anchor="end" font-size="14.3" letter-spacing="1.15" fill="#5a5a5a" font-family="Liberation Sans" transform="rotate(-50 402.45 299.00)">2021M06</text><text x="533.55" y="299.00" text-anchor="end" font-size="14.3" letter-spacing="1.15" fill="#5a5a5a" font-family="Liberation Sans" transform="rotate(-50 533.55 299.00)">2021M07</text><text x="664.65" y="299.00" text-anchor="end" font-size="14.3" letter-spacing="1.15" fill="#5a5a5a" font-family="Liberation Sans" transform="rotate(-50 664.65 299.00)">2021M08</text><text x="795.75" y="299.00" text-anchor="end" font-size="14.3" letter-spacing="1.15" fill="#5a5a5a" font-family="Liberation Sans" transform="rotate(-50 795.75 299.00)">2021M09</text><text x="926.85" y="299.00" text-anchor="end" font-size="14.3" letter-spacing="1.15" fill="#5a5a5a" font-family="Liberation Sans" transform="rotate(-50 926.85 299.00)">2021M10</text><text x="1057.95" y="299.00" text-anchor="end" font-size="14.3" letter-spacing="1.15" fill="#5a5a5a" font-family="Liberation Sans" transform="rotate(-50 1057.95 299.00)">2021M11</text><text x="1189.05" y="299.00" text-anchor="end" font-size="14.3" letter-spacing="1.15" fill="#5a5a5a" font-family="Liberation Sans" transform="rotate(-50 1189.05 299.00)">2021M12</text><text x="1320.15" y="299.00" text-anchor="end" font-size="14.3" letter-spacing="1.15" fill="#5a5a5a" font-family="Liberation Sans" transform="rotate(-50 1320.15 299.00)">2022M01</text><text x="1451.25" y="299.00" text-anchor="end" font-size="14.3" letter-spacing="1.15" fill="#5a5a5a" font-family="Liberation Sans" transform="rotate(-50 1451.25 299.00)">2022M02</text><text x="1582.35" y="299.00" text-anchor="end" font-size="14.3" letter-spacing="1.15" fill="#5a5a5a" font-family="Liberation Sans" transform="rotate(-50 1582.35 299.00)">2022M03</text></svg>
<div class="t" style="left:26px;top:378.8px">Listado de series graficadas</div><svg class="ti" style="left:31px;top:401px" width="20" height="16" viewBox="0 0 20 16">
<rect x="0" y="0" width="20" height="16" fill="#3b3b2b"/>
<rect x="1" y="5" width="18" height="10" fill="#f3f7e3"/>
<g fill="#8c8e7a"><rect x="1.1" y="1.2" width="4.8" height="2.2"/><rect x="7.2" y="1.2" width="5.3" height="2.2"/><rect x="13.8" y="1.2" width="4.9" height="2.2"/></g>
<rect x="1" y="3.6" width="18" height="0.9" fill="#55553f"/>
<path d="M1 8.3H19M1 11.7H19M6.7 5V15M13.3 5V15" stroke="#c9cdb9" stroke-width="0.9"/>
</svg><div class="t" style="left:58px;top:400.8px">Todas las series</div><svg class="ti" style="left:31px;top:425px" width="20" height="16" viewBox="0 0 20 16">
<rect x="0" y="0" width="20" height="16" fill="#3b3b2b"/>
<rect x="1" y="5" width="18" height="10" fill="#f3f7e3"/>
<g fill="#8c8e7a"><rect x="1.1" y="1.2" width="4.8" height="2.2"/><rect x="7.2" y="1.2" width="5.3" height="2.2"/><rect x="13.8" y="1.2" width="4.9" height="2.2"/></g>
<rect x="1" y="3.6" width="18" height="0.9" fill="#55553f"/>
<path d="M1 8.3H19M1 11.7H19M6.7 5V15M13.3 5V15" stroke="#c9cdb9" stroke-width="0.9"/>
</svg><svg class="ti" style="left:58px;top:424px" width="22" height="23" viewBox="0 0 22 23">
<g fill="none" stroke="#c2173f" stroke-width="1.1">
<ellipse cx="9.4" cy="4.6" rx="8.2" ry="4.0"/>
<path d="M1.2 4.6V17.2A8.2 4 0 0 0 9.4 21.2A8.2 4 0 0 0 17.6 17.2"/>
<path d="M17.6 4.6V10"/>
<path d="M1.2 8.8A8.2 4 0 0 0 17.6 8.8"/>
<path d="M1.2 13A8.2 4 0 0 0 17.6 13"/>
</g>
<circle cx="15.1" cy="15" r="4.8" fill="#fff" stroke="#c2173f" stroke-width="1.2"/>
<path d="M15.1 11.8V18.2M11.9 15H18.3" stroke="#c2173f" stroke-width="1.8"/>
</svg><div class="sw" style="left:85px;top:419px;background:#5a9e9b"></div><div class="t" style="left:97.3px;top:423.90px">IPC251852 - Total Nacional. Índice general. Índice.</div><svg class="ti" style="left:31px;top:453px" width="20" height="16" viewBox="0 0 20 16">
<rect x="0" y="0" width="20" height="16" fill="#3b3b2b"/>
<rect x="1" y="5" width="18" height="10" fill="#f3f7e3"/>
<g fill="#8c8e7a"><rect x="1.1" y="1.2" width="4.8" height="2.2"/><rect x="7.2" y="1.2" width="5.3" height="2.2"/><rect x="13.8" y="1.2" width="4.9" height="2.2"/></g>
<rect x="1" y="3.6" width="18" height="0.9" fill="#55553f"/>
<path d="M1 8.3H19M1 11.7H19M6.7 5V15M13.3 5V15" stroke="#c9cdb9" stroke-width="0.9"/>
</svg><svg class="ti" style="left:58px;top:452px" width="22" height="23" viewBox="0 0 22 23">
<g fill="none" stroke="#c2173f" stroke-width="1.1">
<ellipse cx="9.4" cy="4.6" rx="8.2" ry="4.0"/>
<path d="M1.2 4.6V17.2A8.2 4 0 0 0 9.4 21.2A8.2 4 0 0 0 17.6 17.2"/>
<path d="M17.6 4.6V10"/>
<path d="M1.2 8.8A8.2 4 0 0 0 17.6 8.8"/>
<path d="M1.2 13A8.2 4 0 0 0 17.6 13"/>
</g>
<circle cx="15.1" cy="15" r="4.8" fill="#fff" stroke="#c2173f" stroke-width="1.2"/>
<path d="M15.1 11.8V18.2M11.9 15H18.3" stroke="#c2173f" stroke-width="1.8"/>
</svg><div class="sw" style="left:85px;top:448px;background:#d4870e"></div><div class="t" style="left:97.3px;top:452.17px">IPC251889 - Total Nacional. Transporte. Índice.</div><svg class="ti" style="left:31px;top:482px" width="20" height="16" viewBox="0 0 20 16">
<rect x="0" y="0" width="20" height="16" fill="#3b3b2b"/>
<rect x="1" y="5" width="18" height="10" fill="#f3f7e3"/>
<g fill="#8c8e7a"><rect x="1.1" y="1.2" width="4.8" height="2.2"/><rect x="7.2" y="1.2" width="5.3" height="2.2"/><rect x="13.8" y="1.2" width="4.9" height="2.2"/></g>
<rect x="1" y="3.6" width="18" height="0.9" fill="#55553f"/>
<path d="M1 8.3H19M1 11.7H19M6.7 5V15M13.3 5V15" stroke="#c9cdb9" stroke-width="0.9"/>
</svg><svg class="ti" style="left:58px;top:481px" width="22" height="23" viewBox="0 0 22 23">
<g fill="none" stroke="#c2173f" stroke-width="1.1">
<ellipse cx="9.4" cy="4.6" rx="8.2" ry="4.0"/>
<path d="M1.2 4.6V17.2A8.2 4 0 0 0 9.4 21.2A8.2 4 0 0 0 17.6 17.2"/>
<path d="M17.6 4.6V10"/>
<path d="M1.2 8.8A8.2 4 0 0 0 17.6 8.8"/>
<path d="M1.2 13A8.2 4 0 0 0 17.6 13"/>
</g>
<circle cx="15.1" cy="15" r="4.8" fill="#fff" stroke="#c2173f" stroke-width="1.2"/>
<path d="M15.1 11.8V18.2M11.9 15H18.3" stroke="#c2173f" stroke-width="1.8"/>
</svg><div class="sw" style="left:85px;top:476px;background:#a8965f"></div><div class="t" style="left:97.3px;top:480.44px">IPC251943 - Total Nacional. Electricidad, gas y otros combustibles. Índice.</div><svg class="ti" style="left:31px;top:510px" width="20" height="16" viewBox="0 0 20 16">
<rect x="0" y="0" width="20" height="16" fill="#3b3b2b"/>
<rect x="1" y="5" width="18" height="10" fill="#f3f7e3"/>
<g fill="#8c8e7a"><rect x="1.1" y="1.2" width="4.8" height="2.2"/><rect x="7.2" y="1.2" width="5.3" height="2.2"/><rect x="13.8" y="1.2" width="4.9" height="2.2"/></g>
<rect x="1" y="3.6" width="18" height="0.9" fill="#55553f"/>
<path d="M1 8.3H19M1 11.7H19M6.7 5V15M13.3 5V15" stroke="#c9cdb9" stroke-width="0.9"/>
</svg><svg class="ti" style="left:58px;top:509px" width="22" height="23" viewBox="0 0 22 23">
<g fill="none" stroke="#c2173f" stroke-width="1.1">
<ellipse cx="9.4" cy="4.6" rx="8.2" ry="4.0"/>
<path d="M1.2 4.6V17.2A8.2 4 0 0 0 9.4 21.2A8.2 4 0 0 0 17.6 17.2"/>
<path d="M17.6 4.6V10"/>
<path d="M1.2 8.8A8.2 4 0 0 0 17.6 8.8"/>
<path d="M1.2 13A8.2 4 0 0 0 17.6 13"/>
</g>
<circle cx="15.1" cy="15" r="4.8" fill="#fff" stroke="#c2173f" stroke-width="1.2"/>
<path d="M15.1 11.8V18.2M11.9 15H18.3" stroke="#c2173f" stroke-width="1.8"/>
</svg><div class="sw" style="left:85px;top:504px;background:#579575"></div><div class="t" style="left:97.3px;top:508.71px">IPC251991 - Total Nacional. Servicios de transporte. Índice.</div><svg class="ti" style="left:31px;top:538px" width="20" height="16" viewBox="0 0 20 16">
<rect x="0" y="0" width="20" height="16" fill="#3b3b2b"/>
<rect x="1" y="5" width="18" height="10" fill="#f3f7e3"/>
<g fill="#8c8e7a"><rect x="1.1" y="1.2" width="4.8" height="2.2"/><rect x="7.2" y="1.2" width="5.3" height="2.2"/><rect x="13.8" y="1.2" width="4.9" height="2.2"/></g>
<rect x="1" y="3.6" width="18" height="0.9" fill="#55553f"/>
<path d="M1 8.3H19M1 11.7H19M6.7 5V15M13.3 5V15" stroke="#c9cdb9" stroke-width="0.9"/>
</svg><svg class="ti" style="left:58px;top:537px" width="22" height="23" viewBox="0 0 22 23">
<g fill="none" stroke="#c2173f" stroke-width="1.1">
<ellipse cx="9.4" cy="4.6" rx="8.2" ry="4.0"/>
<path d="M1.2 4.6V17.2A8.2 4 0 0 0 9.4 21.2A8.2 4 0 0 0 17.6 17.2"/>
<path d="M17.6 4.6V10"/>
<path d="M1.2 8.8A8.2 4 0 0 0 17.6 8.8"/>
<path d="M1.2 13A8.2 4 0 0 0 17.6 13"/>
</g>
<circle cx="15.1" cy="15" r="4.8" fill="#fff" stroke="#c2173f" stroke-width="1.2"/>
<path d="M15.1 11.8V18.2M11.9 15H18.3" stroke="#c2173f" stroke-width="1.8"/>
</svg><div class="sw" style="left:85px;top:532px;background:#839557"></div><div class="t" style="left:97.3px;top:536.98px">IPC253046 - Total Nacional. Combustibles líquidos. Índice.</div><svg class="ti" style="left:31px;top:566px" width="20" height="16" viewBox="0 0 20 16">
<rect x="0" y="0" width="20" height="16" fill="#3b3b2b"/>
<rect x="1" y="5" width="18" height="10" fill="#f3f7e3"/>
<g fill="#8c8e7a"><rect x="1.1" y="1.2" width="4.8" height="2.2"/><rect x="7.2" y="1.2" width="5.3" height="2.2"/><rect x="13.8" y="1.2" width="4.9" height="2.2"/></g>
<rect x="1" y="3.6" width="18" height="0.9" fill="#55553f"/>
<path d="M1 8.3H19M1 11.7H19M6.7 5V15M13.3 5V15" stroke="#c9cdb9" stroke-width="0.9"/>
</svg><svg class="ti" style="left:58px;top:565px" width="22" height="23" viewBox="0 0 22 23">
<g fill="none" stroke="#c2173f" stroke-width="1.1">
<ellipse cx="9.4" cy="4.6" rx="8.2" ry="4.0"/>
<path d="M1.2 4.6V17.2A8.2 4 0 0 0 9.4 21.2A8.2 4 0 0 0 17.6 17.2"/>
<path d="M17.6 4.6V10"/>
<path d="M1.2 8.8A8.2 4 0 0 0 17.6 8.8"/>
<path d="M1.2 13A8.2 4 0 0 0 17.6 13"/>
</g>
<circle cx="15.1" cy="15" r="4.8" fill="#fff" stroke="#c2173f" stroke-width="1.2"/>
<path d="M15.1 11.8V18.2M11.9 15H18.3" stroke="#c2173f" stroke-width="1.8"/>
</svg><div class="sw" style="left:85px;top:561px;background:#958c12"></div><div class="t" style="left:97.3px;top:565.25px">IPC252540 - Total Nacional. Gasóleo. Índice.</div><svg class="ti" style="left:31px;top:595px" width="20" height="16" viewBox="0 0 20 16">
<rect x="0" y="0" width="20" height="16" fill="#3b3b2b"/>
<rect x="1" y="5" width="18" height="10" fill="#f3f7e3"/>
<g fill="#8c8e7a"><rect x="1.1" y="1.2" width="4.8" height="2.2"/><rect x="7.2" y="1.2" width="5.3" height="2.2"/><rect x="13.8" y="1.2" width="4.9" height="2.2"/></g>
<rect x="1" y="3.6" width="18" height="0.9" fill="#55553f"/>
<path d="M1 8.3H19M1 11.7H19M6.7 5V15M13.3 5V15" stroke="#c9cdb9" stroke-width="0.9"/>
</svg><svg class="ti" style="left:58px;top:594px" width="22" height="23" viewBox="0 0 22 23">
<g fill="none" stroke="#c2173f" stroke-width="1.1">
<ellipse cx="9.4" cy="4.6" rx="8.2" ry="4.0"/>
<path d="M1.2 4.6V17.2A8.2 4 0 0 0 9.4 21.2A8.2 4 0 0 0 17.6 17.2"/>
<path d="M17.6 4.6V10"/>
<path d="M1.2 8.8A8.2 4 0 0 0 17.6 8.8"/>
<path d="M1.2 13A8.2 4 0 0 0 17.6 13"/>
</g>
<circle cx="15.1" cy="15" r="4.8" fill="#fff" stroke="#c2173f" stroke-width="1.2"/>
<path d="M15.1 11.8V18.2M11.9 15H18.3" stroke="#c2173f" stroke-width="1.8"/>
</svg><div class="sw" style="left:85px;top:589px;background:#953579"></div><div class="t" style="left:97.3px;top:593.52px">IPC252580 - Total Nacional. Transporte de pasajeros en autobús y autocar. Índice.</div><svg class="ti" style="left:31px;top:623px" width="20" height="16" viewBox="0 0 20 16">
<rect x="0" y="0" width="20" height="16" fill="#3b3b2b"/>
<rect x="1" y="5" width="18" height="10" fill="#f3f7e3"/>
<g fill="#8c8e7a"><rect x="1.1" y="1.2" width="4.8" height="2.2"/><rect x="7.2" y="1.2" width="5.3" height="2.2"/><rect x="13.8" y="1.2" width="4.9" height="2.2"/></g>
<rect x="1" y="3.6" width="18" height="0.9" fill="#55553f"/>
<path d="M1 8.3H19M1 11.7H19M6.7 5V15M13.3 5V15" stroke="#c9cdb9" stroke-width="0.9"/>
</svg><svg class="ti" style="left:58px;top:622px" width="22" height="23" viewBox="0 0 22 23">
<g fill="none" stroke="#c2173f" stroke-width="1.1">
<ellipse cx="9.4" cy="4.6" rx="8.2" ry="4.0"/>
<path d="M1.2 4.6V17.2A8.2 4 0 0 0 9.4 21.2A8.2 4 0 0 0 17.6 17.2"/>
<path d="M17.6 4.6V10"/>
<path d="M1.2 8.8A8.2 4 0 0 0 17.6 8.8"/>
<path d="M1.2 13A8.2 4 0 0 0 17.6 13"/>
</g>
<circle cx="15.1" cy="15" r="4.8" fill="#fff" stroke="#c2173f" stroke-width="1.2"/>
<path d="M15.1 11.8V18.2M11.9 15H18.3" stroke="#c2173f" stroke-width="1.8"/>
</svg><div class="sw" style="left:85px;top:617px;background:#4b5de4"></div><div class="t" style="left:97.3px;top:621.79px">IPC253679 - Total Nacional. Seguros de vehículos de motor. Índice.</div>
</body></html>
